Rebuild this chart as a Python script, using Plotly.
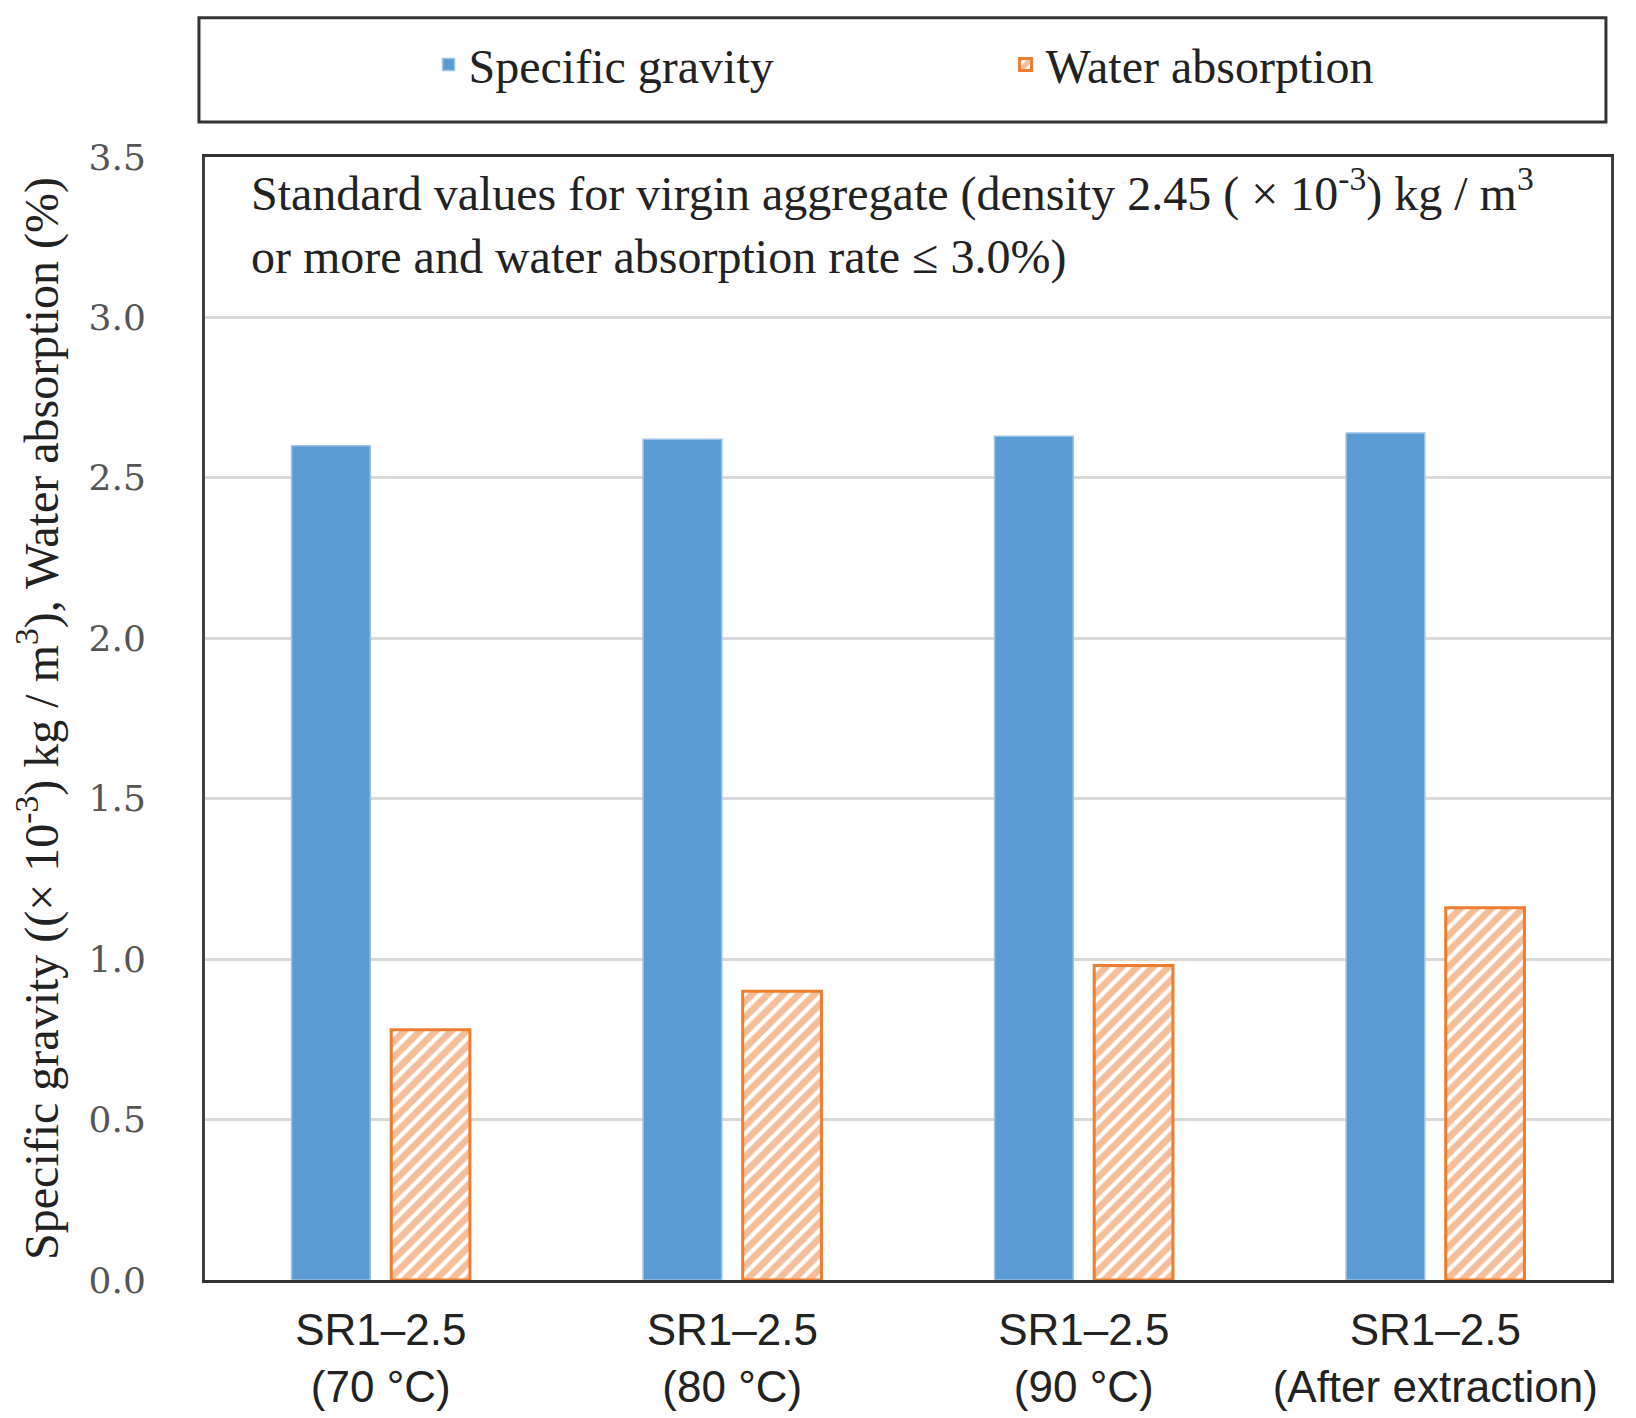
import plotly.graph_objects as go

categories = ["SR1–2.5<br>(70 °C)", "SR1–2.5<br>(80 °C)", "SR1–2.5<br>(90 °C)", "SR1–2.5<br>(After extraction)"]
specific_gravity = [2.60, 2.62, 2.63, 2.64]
water_absorption = [0.78, 0.90, 0.98, 1.16]
y_ticks = [0.0, 0.5, 1.0, 1.5, 2.0, 2.5, 3.0, 3.5]

BLUE = "#5B9BD5"
ORANGE = "#ED7D31"
SERIF = "Liberation Serif, Times New Roman, serif"

fig = go.Figure()
fig.add_trace(go.Bar(
    x=categories, y=specific_gravity, name="Specific gravity",
    marker=dict(color=BLUE, line=dict(color="#9DC3E6", width=1.5)),
))
fig.add_trace(go.Bar(
    x=categories, y=water_absorption, name="Water absorption",
    marker=dict(color="white", line=dict(color=ORANGE, width=3),
                pattern=dict(shape="/", fgcolor=ORANGE, bgcolor="white", size=11, solidity=0.62)),
))

fig.update_layout(
    width=1636, height=1418,
    margin=dict(l=197, r=33, t=149, b=146),
    paper_bgcolor="white", plot_bgcolor="white",
    barmode="group", bargap=0.433, bargroupgap=0.21,
    showlegend=True,
    legend=dict(orientation="h", x=0.159, xanchor="left", y=1.082, yanchor="middle",
                font=dict(family=SERIF, size=48, color="#222222"),
                bgcolor="rgba(0,0,0,0)", entrywidth=532, traceorder="normal"),
    xaxis=dict(showline=True, linecolor="#333333", linewidth=3, mirror=True,
               tickfont=dict(family="Liberation Sans, Arial, sans-serif", size=44, color="#222222"),
               ticks="", ticklabelstandoff=9),
    yaxis=dict(range=[0, 3.5], tickvals=y_ticks, ticktext=[f"{v:.1f}" for v in y_ticks],
               showline=True, linecolor="#404040", linewidth=3, mirror=True,
               showgrid=True, gridcolor="#D9D9D9", gridwidth=2.5, zeroline=False,
               tickfont=dict(family="DejaVu Serif, serif", size=36, color="#555555"),
               ticks="", ticklabelstandoff=49,
               title=dict(text="Specific gravity ((× 10<sup>-3</sup>) kg / m<sup>3</sup>), Water absorption (%)",
                          font=dict(family=SERIF, size=48, color="#222222"), standoff=24)),
    shapes=[dict(type="rect", xref="paper", yref="paper",
                 x0=-0.0043, x1=0.9964, y0=1.03125, y1=1.1241,
                 line=dict(color="#333333", width=3), fillcolor="rgba(0,0,0,0)", layer="above")],
    annotations=[dict(xref="paper", yref="paper", x=0.031, y=0.9420, xanchor="left", yanchor="middle",
                      align="left", showarrow=False,
                      text="Standard values for virgin aggregate (density 2.45 ( × 10<sup>-3</sup>) kg / m<sup>3</sup><br>or more and water absorption rate ≤ 3.0%)",
                      font=dict(family=SERIF, size=48, color="#222222"))],
)

fig.write_html("out.html")
